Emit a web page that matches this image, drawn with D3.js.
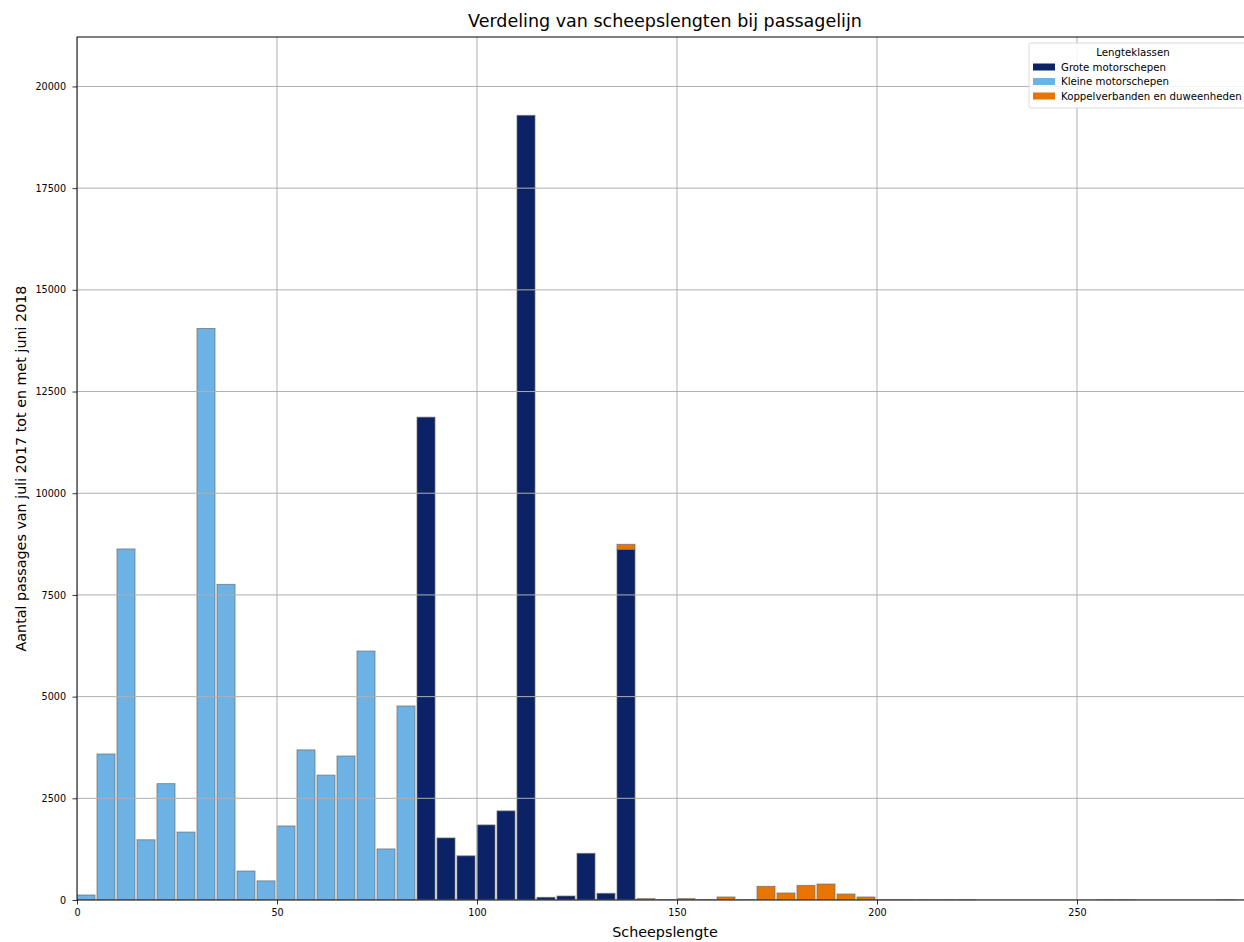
<!DOCTYPE html>
<html>
<head>
<meta charset="utf-8">
<script src="https://d3js.org/d3.v7.min.js"></script>
<style>
  body { margin: 0; background: #fff; }
  svg { display: block; font-family: "DejaVu Sans", sans-serif; }
</style>
</head>
<body>
<svg id="chart" width="1244" height="942"></svg>
<script>
// ---- data ----
const binWidth = 5;
const binStarts = d3.range(0, 295, 5); // 0 .. 290
const seriesNames = ["Grote motorschepen", "Kleine motorschepen", "Koppelverbanden en duweenheden"];
const seriesColors = ["#0b2266", "#6cb2e4", "#e87502"];

// bins: 0-5, 5-10, ... (counts)
const kleine = [123, 3590, 8630, 1480, 2860, 1670, 14050, 7760, 712, 470,
                1820, 3690, 3070, 3540, 6120, 1255, 4770, 0, 0, 0,
                0, 0, 0, 0, 0, 0, 0, 0, 0, 0,
                0, 0, 0, 0, 0, 0, 0, 0, 0, 0,
                0, 0, 0, 0, 0, 0, 0, 0, 0, 0,
                0, 0, 0, 0, 0, 0, 0, 0, 0];
const grote = [0, 0, 0, 0, 0, 0, 0, 0, 0, 0,
               0, 0, 0, 0, 0, 0, 0, 11870, 1525, 1085,
               1845, 2190, 19290, 66, 98, 1147, 164, 8620, 0, 0,
               0, 0, 0, 0, 0, 0, 0, 0, 0, 0,
               0, 0, 0, 0, 0, 0, 0, 0, 0, 0,
               0, 0, 0, 0, 0, 0, 0, 0, 0];
const koppel = [0, 0, 0, 0, 0, 0, 0, 0, 0, 0,
                0, 0, 0, 0, 0, 0, 0, 0, 0, 0,
                0, 0, 0, 0, 0, 0, 0, 125, 33, 8,
                33, 8, 74, 5, 336, 172, 360, 393, 147, 74,
                3, 3, 2, 2, 3, 0, 0, 0, 0, 0,
                0, 2, 2, 0, 0, 0, 0, 2, 0];

const xTicks = [0, 50, 100, 150, 200, 250];
const yTicks = [0, 2500, 5000, 7500, 10000, 12500, 15000, 17500, 20000];
const xMax = 294;
const yMax = 21216;

// ---- layout ----
const svg = d3.select("#chart");
const margin = { left: 77, top: 37, right: 1253, bottom: 900 };

const x = d3.scaleLinear().domain([0, xMax]).range([margin.left, margin.right]);
const y = d3.scaleLinear().domain([0, yMax]).range([margin.bottom, margin.top]);

const table = binStarts.map((b, i) => ({
  bin: b,
  "Grote motorschepen": grote[i],
  "Kleine motorschepen": kleine[i],
  "Koppelverbanden en duweenheden": koppel[i]
}));
const stacked = d3.stack().keys(seriesNames)(table);

svg.append("defs").append("clipPath").attr("id", "plotclip")
  .append("rect").attr("x", margin.left).attr("y", margin.top)
  .attr("width", margin.right - margin.left).attr("height", margin.bottom - margin.top);

// bars
const barsG = svg.append("g").attr("clip-path", "url(#plotclip)");
stacked.forEach((layer, si) => {
  barsG.append("g")
    .selectAll("rect")
    .data(layer.filter(d => d[1] - d[0] > 0))
    .join("rect")
    .attr("x", d => x(d.data.bin))
    .attr("width", d => x(d.data.bin + binWidth * 0.9) - x(d.data.bin))
    .attr("y", d => y(d[1]))
    .attr("height", d => Math.max(0, y(d[0]) - y(d[1])))
    .attr("fill", seriesColors[si])
    .attr("stroke", "#6f6f6f")
    .attr("stroke-width", 0.9)
    .attr("stroke-opacity", 0.8);
});

// grid (above bars, like matplotlib)
const gridG = svg.append("g").attr("clip-path", "url(#plotclip)");
gridG.selectAll(".gx").data(xTicks).join("line")
  .attr("x1", d => x(d)).attr("x2", d => x(d))
  .attr("y1", margin.top).attr("y2", margin.bottom)
  .attr("stroke", "#b0b0b0").attr("stroke-width", 1);
gridG.selectAll(".gy").data(yTicks).join("line")
  .attr("y1", d => y(d)).attr("y2", d => y(d))
  .attr("x1", margin.left).attr("x2", margin.right)
  .attr("stroke", "#b0b0b0").attr("stroke-width", 1);

// axes
const xAxis = d3.axisBottom(x).tickValues(xTicks).tickSize(4.5).tickPadding(5).tickFormat(d3.format("d"));
const yAxis = d3.axisLeft(y).tickValues(yTicks).tickSize(4.5).tickPadding(6.5).tickFormat(d3.format("d"));
const gx = svg.append("g").attr("transform", `translate(0,${margin.bottom})`).call(xAxis);
const gy = svg.append("g").attr("transform", `translate(${margin.left},0)`).call(yAxis);
[gx, gy].forEach(g => {
  g.select(".domain").remove();
  g.selectAll(".tick line").attr("stroke", "#000").attr("stroke-width", 0.8);
  g.selectAll(".tick text").attr("fill", "#000").style("font-size", "9.6px").style("font-family", "DejaVu Sans");
});

// spines
svg.append("rect")
  .attr("x", margin.left).attr("y", margin.top)
  .attr("width", margin.right - margin.left).attr("height", margin.bottom - margin.top)
  .attr("fill", "none").attr("stroke", "#000").attr("stroke-width", 1);

// title & labels
svg.append("text").attr("x", (margin.left + margin.right) / 2).attr("y", 27)
  .attr("text-anchor", "middle").style("font-size", "17.5px").attr("fill", "#000")
  .text("Verdeling van scheepslengten bij passagelijn");
svg.append("text").attr("x", (margin.left + margin.right) / 2).attr("y", 937)
  .attr("text-anchor", "middle").style("font-size", "14.3px").attr("fill", "#000")
  .text("Scheepslengte");
svg.append("text")
  .attr("transform", `translate(26,${(margin.top + margin.bottom) / 2}) rotate(-90)`)
  .attr("text-anchor", "middle").style("font-size", "14.3px").attr("fill", "#000")
  .text("Aantal passages van juli 2017 tot en met juni 2018");

// legend
const lg = svg.append("g").attr("transform", "translate(1029,43)");
lg.append("rect").attr("x", 0).attr("y", 0).attr("width", 220).attr("height", 65)
  .attr("rx", 2).attr("fill", "#fff").attr("fill-opacity", 0.85)
  .attr("stroke", "#d0d0d0").attr("stroke-width", 0.8);
lg.append("text").attr("x", 104).attr("y", 12.5).attr("text-anchor", "middle")
  .style("font-size", "10.2px").attr("fill", "#000").text("Lengteklassen");
seriesNames.forEach((name, i) => {
  const cy = 24 + i * 14.5;
  lg.append("rect").attr("x", 4).attr("y", cy - 3.5).attr("width", 22).attr("height", 7)
    .attr("fill", seriesColors[i]);
  lg.append("text").attr("x", 32).attr("y", cy + 3.7)
    .style("font-size", "10.2px").attr("fill", "#000").text(name);
});
</script>
</body>
</html>
